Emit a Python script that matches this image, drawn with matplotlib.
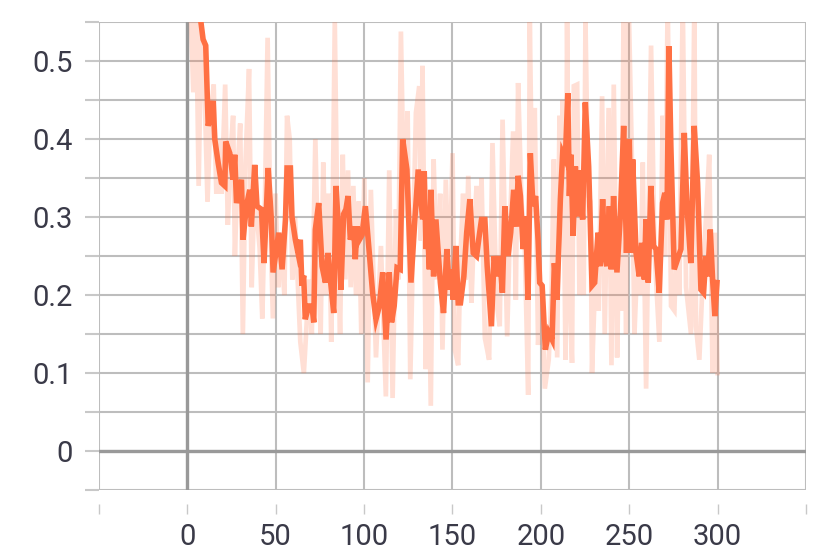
import numpy as np
import matplotlib
matplotlib.use("Agg")
import matplotlib.pyplot as plt
from matplotlib.ticker import MultipleLocator, FuncFormatter

# smoothed curve
smooth_x = [5.0, 7.2, 9.0, 10.5, 11.9, 13.2, 14.7, 15.6, 17.5, 19.4, 21.3, 21.8, 24.1, 26.0, 26.9, 27.9,
            30.7, 31.6, 33.5, 35.4, 36.3, 38.2, 39.5, 42.0, 43.5, 45.8, 47.6, 48.6, 51.8, 53.7, 55.6,
            56.5, 58.4, 59.3, 61.2, 62.7, 64.0, 64.9, 65.9, 66.8, 68.7, 70.6, 71.6, 72.5, 74.4, 76.3,
            78.2, 79.7, 81.0, 82.9, 84.2, 85.7, 87.0, 88.5, 89.8, 91.0, 92.3, 94.2, 95.1, 96.1, 97.4,
            98.9, 100.8, 103.0, 104.9, 106.8, 108.7, 110.6, 112.5, 114.3, 115.6, 117.1, 118.7, 120.5,
            121.9, 124.3, 126.6, 128.8, 130.7, 133.2, 134.1, 135.1, 136.0, 137.0, 137.9, 139.4, 140.7,
            143.2, 145.0, 146.9, 148.3, 149.6, 150.5, 152.0, 153.3, 154.6, 156.5, 158.1, 159.9, 161.8,
            163.7, 165.2, 166.5, 168.4, 169.7, 172.1, 173.6, 175.3, 176.8, 178.3, 179.7, 181.5, 183.0,
            184.7, 186.2, 187.2, 188.5, 190.0, 191.5, 192.8, 194.1, 195.6, 197.1, 198.5, 199.4, 200.8,
            202.6, 204.5, 206.4, 207.7, 209.2, 211.1, 212.4, 213.9, 215.3, 216.2, 217.1, 218.3, 219.6,
            220.5, 221.9, 223.7, 225.2, 227.1, 229.0, 230.5, 232.4, 233.7, 235.0, 236.1, 237.4, 238.8,
            239.9, 241.2, 243.1, 245.0, 246.9, 248.5, 250.1, 251.2, 252.0, 253.9, 255.7, 257.1, 258.6,
            259.5, 260.8, 262.3, 263.8, 265.2, 267.0, 268.9, 270.2, 271.4, 272.5, 273.6, 275.5, 277.4,
            279.3, 281.2, 282.7, 284.9, 286.8, 288.7, 290.6, 292.1, 293.4, 294.4, 295.9, 297.2, 298.5,
            299.7]
smooth_y = [0.60, 0.56, 0.528, 0.52, 0.417, 0.43, 0.449, 0.40, 0.37, 0.344, 0.34, 0.397, 0.382, 0.348,
            0.38, 0.318, 0.348, 0.271, 0.314, 0.335, 0.288, 0.367, 0.314, 0.31, 0.241, 0.363, 0.297,
            0.229, 0.28, 0.233, 0.297, 0.363, 0.363, 0.30, 0.271, 0.254, 0.271, 0.212, 0.225, 0.169,
            0.186, 0.186, 0.165, 0.284, 0.318, 0.237, 0.216, 0.254, 0.22, 0.177, 0.34, 0.28, 0.207,
            0.304, 0.31, 0.327, 0.271, 0.288, 0.246, 0.288, 0.271, 0.277, 0.314, 0.254, 0.203, 0.169,
            0.186, 0.229, 0.143, 0.229, 0.165, 0.186, 0.235, 0.233, 0.40, 0.361, 0.216, 0.297, 0.361,
            0.297, 0.359, 0.259, 0.284, 0.233, 0.335, 0.224, 0.297, 0.216, 0.177, 0.259, 0.207, 0.233,
            0.194, 0.263, 0.19, 0.19, 0.224, 0.28, 0.323, 0.254, 0.25, 0.276, 0.297, 0.297, 0.237,
            0.16, 0.25, 0.224, 0.25, 0.203, 0.314, 0.25, 0.28, 0.335, 0.288, 0.353, 0.327, 0.259,
            0.301, 0.194, 0.382, 0.314, 0.327, 0.27, 0.216, 0.212, 0.13, 0.152, 0.143, 0.241, 0.194,
            0.323, 0.382, 0.374, 0.459, 0.327, 0.38, 0.276, 0.365, 0.301, 0.36, 0.297, 0.447, 0.365,
            0.212, 0.216, 0.28, 0.237, 0.323, 0.254, 0.237, 0.314, 0.233, 0.327, 0.229, 0.301, 0.417,
            0.254, 0.40, 0.254, 0.374, 0.254, 0.224, 0.267, 0.22, 0.297, 0.216, 0.34, 0.263, 0.259,
            0.203, 0.318, 0.331, 0.297, 0.519, 0.391, 0.233, 0.246, 0.259, 0.408, 0.314, 0.241, 0.417,
            0.344, 0.207, 0.203, 0.25, 0.224, 0.284, 0.22, 0.173, 0.216]

# raw values (faint line)
raw_x = [2, 3.5, 5, 6.5, 8, 10, 11.5, 13, 15, 16.5, 18, 19.5, 21.5, 23, 24.5, 26, 27, 28.5, 30, 31.5,
         33, 35, 36.5, 38, 39.5, 41, 42.5, 44, 45.5, 47, 48.5, 50, 51.5, 53, 55, 56.5, 58, 59.5, 61,
         62.5, 64, 66, 67.5, 69, 70.5, 72.5, 74, 75.5, 77, 78.5, 80, 81.5, 83.5, 85, 86.5, 88, 89.5,
         91, 92.5, 94, 95.5, 97, 98.5, 100.2, 102.1, 103.9, 106.8, 109.6, 112.4, 114.3, 116.2, 118.1,
         119.4, 120.9, 122.8, 124.7, 126.2, 128.1, 129.4, 131.3, 132.2, 133.1, 135.0, 136.3, 137.8,
         139.4, 141.2, 143.1, 144.4, 146.3, 148.2, 150.1, 151.4, 153.3, 154.6, 156.1, 157.6, 159.0,
         160.8, 162.2, 163.7, 165.2, 166.5, 168.4, 170.8, 172.7, 175.0, 176.8, 178.4, 181.0, 182.5,
         184.4, 185.9, 187.2, 189.1, 191.0, 192.9, 193.8, 195.3, 196.6, 198.5, 200.4, 202.3, 204.5,
         206.1, 207.4, 209.3, 210.6, 211.7, 212.5, 214.0, 214.9, 216.2, 217.7, 218.7, 220.6, 221.9,
         223.4, 224.3, 225.3, 226.8, 228.1, 229.0, 230.9, 232.8, 234.7, 236.2, 238.4, 240.0, 241.3,
         243.2, 244.5, 245.6, 246.9, 248.2, 249.7, 251.6, 253.0, 254.9, 256.4, 257.7, 259.6, 262.4,
         264.3, 267.1, 269.0, 270.3, 271.8, 273.7, 275.6, 277.1, 278.4, 280.3, 282.2, 285.0, 286.9,
         287.8, 289.7, 291.6, 293.5, 295.3, 297.2, 298.5, 300.0]
raw_y = [0.56, 0.46, 0.58, 0.34, 0.55, 0.45, 0.32, 0.42, 0.47, 0.33, 0.40, 0.33, 0.47, 0.29, 0.38, 0.43,
         0.25, 0.36, 0.42, 0.15, 0.37, 0.49, 0.21, 0.33, 0.30, 0.26, 0.17, 0.32, 0.53, 0.30, 0.17,
         0.33, 0.21, 0.27, 0.20, 0.43, 0.40, 0.22, 0.30, 0.22, 0.14, 0.10, 0.16, 0.22, 0.15, 0.40,
         0.25, 0.15, 0.37, 0.20, 0.33, 0.14, 0.55, 0.28, 0.15, 0.38, 0.22, 0.36, 0.21, 0.34, 0.20,
         0.32, 0.15, 0.35, 0.088, 0.335, 0.12, 0.263, 0.07, 0.36, 0.068, 0.31, 0.22, 0.538, 0.30,
         0.436, 0.092, 0.30, 0.434, 0.468, 0.27, 0.494, 0.105, 0.30, 0.058, 0.374, 0.22, 0.33, 0.13,
         0.348, 0.20, 0.382, 0.13, 0.11, 0.25, 0.33, 0.22, 0.353, 0.19, 0.28, 0.34, 0.25, 0.35,
         0.145, 0.117, 0.395, 0.19, 0.16, 0.425, 0.147, 0.28, 0.41, 0.194, 0.472, 0.32, 0.26, 0.072,
         0.55, 0.30, 0.44, 0.136, 0.21, 0.08, 0.117, 0.20, 0.374, 0.12, 0.43, 0.30, 0.45, 0.117,
         0.55, 0.20, 0.113, 0.468, 0.47, 0.20, 0.30, 0.20, 0.55, 0.33, 0.32, 0.10, 0.23, 0.18, 0.455,
         0.15, 0.44, 0.11, 0.47, 0.12, 0.30, 0.18, 0.58, 0.15, 0.58, 0.37, 0.15, 0.26, 0.20, 0.37,
         0.08, 0.52, 0.26, 0.14, 0.43, 0.25, 0.58, 0.186, 0.18, 0.30, 0.20, 0.58, 0.21, 0.15, 0.58,
         0.16, 0.117, 0.22, 0.30, 0.38, 0.10, 0.28, 0.10]

x_ticks = [-50, 0, 50, 100, 150, 200, 250, 300, 350]

plt.rcParams['font.family'] = ['Roboto', 'DejaVu Sans']

fig = plt.figure(figsize=(8.3, 5.54), dpi=100)
ax = fig.add_axes([0.119, 0.1155, 0.852, 0.8445])

orange = '#ff7043'
ax.plot(raw_x, raw_y, color=orange, alpha=0.22, lw=3.4, solid_joinstyle='miter', zorder=3)
ax.plot(smooth_x, smooth_y, color=orange, lw=4.0, solid_joinstyle='miter', zorder=4)

ax.set_xlim(-50, 350)
ax.set_ylim(-0.05, 0.55)

ax.xaxis.set_major_locator(plt.FixedLocator(x_ticks))
ax.xaxis.set_major_formatter(FuncFormatter(lambda v, p: '' if v < 0 or v > 300 else '%d' % v))
ax.yaxis.set_major_locator(MultipleLocator(0.1))
ax.yaxis.set_minor_locator(MultipleLocator(0.05))
ax.yaxis.set_major_formatter(FuncFormatter(lambda v, p: '0' if abs(v) < 1e-9 else '%.1f' % v))

ax.grid(True, which='both', color='#bdbdbd', lw=1.5, zorder=1)
ax.axhline(0, color='#999999', lw=2.4, zorder=2)
ax.axvline(0, color='#999999', lw=2.4, zorder=2)

for s in ax.spines.values():
    s.set_visible(False)
ax.spines['bottom'].set_position(('outward', 10))

ax.tick_params(axis='x', which='both', length=7, width=1, color='#c8c8c8',
               labelsize=21, labelcolor='#3a3a48', pad=7)
ax.tick_params(axis='y', which='both', length=10, width=1.5, color='#c8c8c8',
               labelsize=21, labelcolor='#3a3a48', pad=9)

fig.savefig('out.png', dpi=100)
